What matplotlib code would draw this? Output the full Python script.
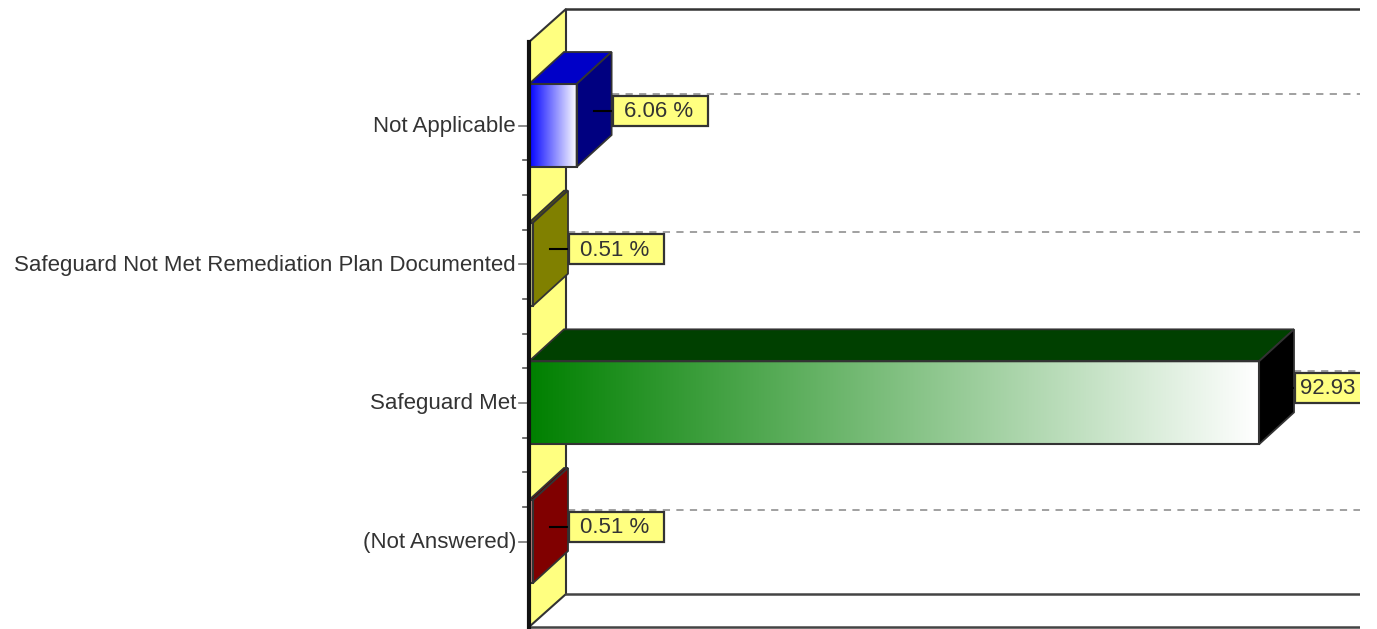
import numpy as np
import matplotlib
matplotlib.use('Agg')
import matplotlib.pyplot as plt
from matplotlib.patches import Polygon, Rectangle

# === DATOS ===
categorias = ['Not Applicable', 'Safeguard Not Met Remediation Plan Documented', 'Safeguard Met', '(Not Answered)']
valores = [6.06, 0.51, 92.93, 0.51]
color_frente = ['#0000ff', '#808000', '#008000', '#800000']
color_arriba = ['#0000c8', '#5a5a00', '#004000', '#5a0000']
color_lado = ['#000080', '#808000', '#000000', '#800000']

# === ESCALAS (pixeles de la figura) ===
W, H = 1377, 629
px_x0 = 529
px_por_pct = (1259 - px_x0) / 92.93
px_y0 = 125.5
px_por_cat = 138.67
fondo_x = 37 / px_por_pct    # profundidad del suelo
fondo_y = 33 / px_por_cat
prof_x = 35 / px_por_pct     # profundidad de las barras
prof_y = 32 / px_por_cat
alto = 83 / px_por_cat / 2
x_fin = (1360 - px_x0) / px_por_pct
y_arriba = (42 - px_y0) / px_por_cat
y_abajo = (627 - px_y0) / px_por_cat

plt.rcParams['font.family'] = ['Liberation Sans', 'DejaVu Sans']
fig = plt.figure(figsize=(W / 100, H / 100), dpi=100)
ax = fig.add_axes([0, 0, 1, 1])
ax.axis('off')
xlim = (-px_x0 / px_por_pct, (W - px_x0) / px_por_pct)
ylim = ((H - px_y0) / px_por_cat, -px_y0 / px_por_cat)

# Pared izquierda amarilla
ax.add_patch(Polygon([(0, y_arriba), (fondo_x, y_arriba - fondo_y), (fondo_x, y_abajo - fondo_y), (0, y_abajo)],
                     fc='#ffff80', ec='#333333', lw=1.5, zorder=1))
# Marco del fondo
ax.plot([fondo_x, x_fin], [y_arriba - fondo_y] * 2, color='#333333', lw=1.8, zorder=2)
ax.plot([fondo_x, x_fin], [y_abajo - fondo_y] * 2, color='#444444', lw=1.8, zorder=2)
ax.plot([0, x_fin], [y_abajo, y_abajo], color='#444444', lw=1.8, zorder=2)
ax.plot([0, 0], [y_arriba, y_abajo], color='#111111', lw=3, zorder=6)

# Marcas del eje
px_tick = 1 / px_por_pct
for i in range(len(categorias)):
    ax.plot([-10 * px_tick, -1 * px_tick], [i, i], color='#777777', lw=1.2, zorder=2)
for i in range(len(categorias) - 1):
    for m in (0.25, 0.5, 0.75):
        ax.plot([-6 * px_tick, -1 * px_tick], [i + m, i + m], color='#555555', lw=1.2, zorder=2)

# Barras
for i, (cat, v) in enumerate(zip(categorias, valores)):
    arriba, abajo = i - alto, i + alto
    fin_3d = v + prof_x

    # Linea discontinua del fondo
    ax.plot([fin_3d, x_fin], [i - prof_y] * 2, color='#999999', lw=1.3, dashes=(4, 3.5), zorder=2)

    # Degradado del frente
    base = np.array(matplotlib.colors.to_rgb(color_frente[i]))
    t = np.linspace(0, 1, 256)[:, None]
    grad = (base * (1 - t) + t)[None, :, :]
    ax.imshow(grad, extent=(0, v, abajo, arriba), aspect='auto', zorder=4, interpolation='bilinear')
    ax.add_patch(Rectangle((0, arriba), v, abajo - arriba, fc='none', ec='#333333', lw=1.5, zorder=5))

    # Caras superior y lateral
    ax.add_patch(Polygon([(0, arriba), (prof_x, arriba - prof_y), (fin_3d, arriba - prof_y), (v, arriba)],
                         fc=color_arriba[i], ec='#333333', lw=1.3, zorder=4))
    ax.add_patch(Polygon([(v, arriba), (fin_3d, arriba - prof_y), (fin_3d, abajo - prof_y), (v, abajo)],
                         fc=color_lado[i], ec='#333333', lw=1.3, zorder=4))

    # Etiqueta de valor
    ax_x = fin_3d
    ax_y = i - 15 / px_por_cat
    ax.plot([ax_x - 18 * px_tick, ax_x], [ax_y, ax_y], color='black', lw=1.5, zorder=6)
    ax.add_patch(Rectangle((ax_x + 1 * px_tick, ax_y - 15 / px_por_cat), 95 / px_por_pct, 30 / px_por_cat,
                           fc='#ffff80', ec='#333333', lw=1.6, zorder=7))
    ax.text(ax_x + 46.5 / px_por_pct, ax_y + 1 / px_por_cat, f'{v:.2f} %', ha='center', va='center',
            fontsize=16, color='#333333', zorder=8)

    # Nombre de categoria
    ax.text(-13 * px_tick, i + 1 / px_por_cat, cat, ha='right', va='center', fontsize=16,
            color='#333333', zorder=8)

# Corte a la derecha
ax.add_patch(Rectangle((x_fin, ylim[1]), xlim[1] - x_fin, ylim[0] - ylim[1], fc='white', ec='none', zorder=20))

ax.set_xlim(xlim)
ax.set_ylim(ylim)
fig.savefig('out.png', dpi=100)
plt.close(fig)
